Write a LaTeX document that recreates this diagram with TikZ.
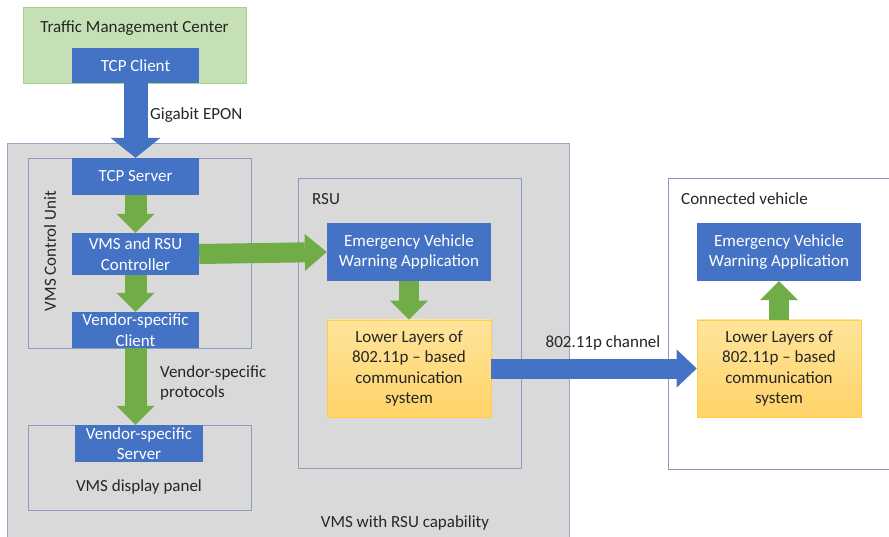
\documentclass[tikz,border=0pt]{standalone}
\usepackage{fontspec}
\setmainfont{Carlito}
\usetikzlibrary{arrows.meta}

\definecolor{boxblue}{HTML}{4472C4}
\definecolor{flowgreen}{HTML}{70AD47}
\definecolor{panelgray}{HTML}{D9D9D9}
\definecolor{frameline}{HTML}{8A9DBE}
\definecolor{tmcgreen}{HTML}{C5E0B4}
\definecolor{tmcedge}{HTML}{A9D18E}
\definecolor{layertop}{HTML}{FFE49C}
\definecolor{layerbot}{HTML}{FFD468}
\definecolor{layeredge}{HTML}{FFCC4D}
\definecolor{inktext}{HTML}{262626}

\tikzset{
  txt/.style={font=\fontsize{17}{20.5}\selectfont, text=inktext, inner sep=0pt},
  container/.style={draw=frameline, line width=0.8pt, inner sep=0pt},
  bluebox/.style={txt, fill=boxblue, text=white, minimum width=127pt,
    inner xsep=0pt, inner ysep=-4pt, align=center},
  appbox/.style={bluebox, minimum width=164pt, minimum height=58pt},
  layerbox/.style={txt, top color=layertop, bottom color=layerbot, draw=layeredge,
    line width=0.6pt, minimum width=164pt, minimum height=97pt, align=center},
  greenflow/.style={draw=flowgreen, line width=22pt,
    -{Triangle[length=19pt,width=38pt,line width=0pt]}},
  sideflow/.style={draw=flowgreen, line width=20pt,
    -{Triangle[length=22pt,width=37pt,line width=0pt]}},
  bigblueflow/.style={draw=boxblue, line width=24pt,
    -{Triangle[length=20pt,width=50pt,line width=0pt]}},
  radioflow/.style={draw=boxblue, line width=20pt,
    -{Triangle[length=20pt,width=38pt,line width=0pt]}},
}

\begin{document}
\begin{tikzpicture}[x=1pt,y=-1pt]
  \fill[white] (0,0) rectangle (889,537);
  \useasboundingbox (0,0) rectangle (889,537);

  % containers
  \node[container, fill=panelgray, draw=frameline!90, minimum width=562pt, minimum height=420pt]
    (vms) at (288,353) {};
  \node[container, fill=tmcgreen, draw=tmcedge, minimum width=223pt, minimum height=76pt]
    (tmc) at (134.5,45) {};
  \node[container, minimum width=223pt, minimum height=190pt] (vcu) at (139.5,253) {};
  \node[container, minimum width=223pt, minimum height=85pt] (panel) at (139.5,467.5) {};
  \node[container, minimum width=223pt, minimum height=290pt] (rsu) at (409.5,323) {};
  \node[container, fill=white, minimum width=232pt, minimum height=291pt] (cv) at (784,323.5) {};

  % container titles
  \node[txt] (tmc-title) at (134.5,28) {Traffic Management Center};
  \node[txt, rotate=90] (vcu-title) at (50,251) {VMS Control Unit};
  \node[txt] (panel-title) at (139,487) {VMS display panel};
  \node[txt, anchor=west] (rsu-title) at (312,199) {RSU};
  \node[txt, anchor=west] (cv-title) at (681,199) {Connected vehicle};
  \node[txt] (vms-title) at (405,523) {VMS with RSU capability};

  % functional blocks
  \node[bluebox, minimum height=35pt] (client) at (135.5,65.5) {TCP Client};
  \node[bluebox, minimum height=37pt] (server) at (135.5,176.5) {TCP Server};
  \node[bluebox, minimum height=42pt] (ctrl) at (135.5,254) {VMS and RSU\\Controller};
  \node[bluebox, minimum height=36pt] (vclient) at (135.5,330) {Vendor-specific\\Client};
  \node[bluebox, minimum width=128pt, minimum height=37pt] (vserver) at (139,443.5) {Vendor-specific\\Server};

  \node[appbox] (evwa-rsu) at (409,252) {Emergency Vehicle\\Warning Application};
  \node[layerbox] (ll-rsu) at (409,368.5) {Lower Layers of\\802.11p – based\\communication\\system};

  \node[appbox] (evwa-cv) at (779,252) {Emergency Vehicle\\Warning Application};
  \node[layerbox] (ll-cv) at (779,368.5) {Lower Layers of\\802.11p – based\\communication\\system};

  % flows
  \draw[bigblueflow] (client.south) -- (server.north);
  \draw[greenflow] (server.south) -- (ctrl.north);
  \draw[greenflow] (ctrl.south) -- (vclient.north);
  \draw[greenflow] (vclient.south) -- (vclient.south |- vserver.north);
  \draw[sideflow] (ctrl.east) -- (evwa-rsu.west);
  \draw[greenflow, line width=20pt] (evwa-rsu.south) -- (ll-rsu.north);
  \draw[greenflow, line width=20pt] (ll-cv.north) -- (evwa-cv.south);
  \draw[radioflow] (ll-rsu.east) -- (ll-cv.west);

  % flow labels
  \node[txt, anchor=west] (epon) at (150,115) {Gigabit EPON};
  \node[txt, anchor=west, align=left] (vproto) at (160,383) {Vendor-specific\\protocols};
  \node[txt] (chan) at (603,343) {802.11p channel};
\end{tikzpicture}
\end{document}
